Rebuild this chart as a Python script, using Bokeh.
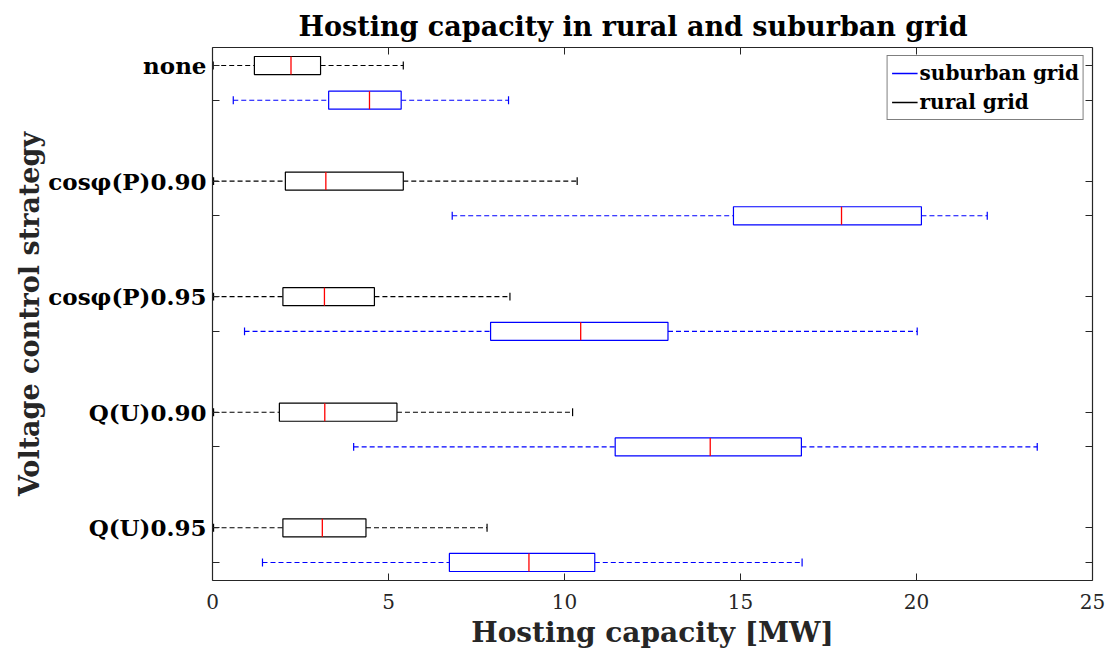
from bokeh.plotting import figure
from bokeh.models import (FixedTicker, LinearAxis, Range1d, Legend, LegendItem, ColumnDataSource)
from bokeh.embed import file_html
from bokeh.resources import INLINE

# ---------------- data ----------------
categories = ["none", "cos\u03c6(P)0.90", "cos\u03c6(P)0.95", "Q(U)0.90", "Q(U)0.95"]

rural_min = [0.02, 0.03, 0.03, 0.03, 0.03]
rural_q1 = [1.19, 2.07, 2.00, 1.90, 2.00]
rural_med = [2.23, 3.22, 3.18, 3.19, 3.12]
rural_q3 = [3.07, 5.42, 4.60, 5.24, 4.36]
rural_max = [5.42, 10.36, 8.45, 10.23, 7.80]

sub_min = [0.59, 6.81, 0.91, 4.01, 1.42]
sub_q1 = [3.30, 14.80, 7.90, 11.44, 6.73]
sub_med = [4.46, 17.87, 10.46, 14.14, 8.99]
sub_q3 = [5.36, 20.14, 12.94, 16.73, 10.86]
sub_max = [8.41, 22.01, 20.02, 23.43, 16.75]

x_ticks = [0, 5, 10, 15, 20, 25]

# ---------------- layout helpers ----------------
n = len(categories)
rural_y = [10 * (n - i) for i in range(n)]
sub_y = [y - 3 for y in rural_y]
box_h = 1.56
cap_h = 0.34

FONT = "DejaVu Serif"
AX = "#262626"

p = figure(width=1108, height=651, output_backend="svg", toolbar_location=None,
           x_range=Range1d(0, 25), y_range=Range1d(min(sub_y) - 1.56, max(rural_y) + 1.56),
           min_border_left=212, min_border_right=16, min_border_top=47, min_border_bottom=64,
           background_fill_color="white", border_fill_color="white")

p.title.text = "Hosting capacity in rural and suburban grid"
p.title.align = "left"
p.title.text_font = FONT
p.title.text_font_style = "bold"
p.title.text_font_size = "27px"
p.title.text_color = "black"
p.title.standoff = 12
p.title.offset = 86

p.grid.visible = False
p.outline_line_color = None


def draw(ys, mn, q1, md, q3, mx, color):
    src = ColumnDataSource(dict(y=ys, mn=mn, q1=q1, md=md, q3=q3, mx=mx,
                                yb=[y - box_h / 2 for y in ys], yt=[y + box_h / 2 for y in ys],
                                cb=[y - cap_h for y in ys], ct=[y + cap_h for y in ys]))
    p.segment(x0="mn", y0="y", x1="q1", y1="y", source=src, line_color=color,
              line_dash="5 3", line_width=1.1)
    p.segment(x0="q3", y0="y", x1="mx", y1="y", source=src, line_color=color,
              line_dash="5 3", line_width=1.1)
    p.segment(x0="mn", y0="cb", x1="mn", y1="ct", source=src, line_color=color, line_width=1.2)
    p.segment(x0="mx", y0="cb", x1="mx", y1="ct", source=src, line_color=color, line_width=1.2)
    p.hbar(y="y", left="q1", right="q3", height=box_h, source=src, fill_color="white",
           line_color=color, line_width=1.2)
    p.segment(x0="md", y0="yb", x1="md", y1="yt", source=src, line_color="red", line_width=1.3)


draw(rural_y, rural_min, rural_q1, rural_med, rural_q3, rural_max, "black")
draw(sub_y, sub_min, sub_q1, sub_med, sub_q3, sub_max, "blue")

# legend with dummy lines
l_sub = p.line([-10, -9], [0, 0], line_color="#0000ff", line_width=1.6)
l_rur = p.line([-10, -9], [0, 0], line_color="black", line_width=1.6)
legend = Legend(items=[LegendItem(label="suburban grid", renderers=[l_sub]),
                       LegendItem(label="rural grid", renderers=[l_rur])],
                location="top_right")
legend.label_text_font = FONT
legend.label_text_font_style = "bold"
legend.label_text_font_size = "20px"
legend.label_text_color = "black"
legend.glyph_width = 26
legend.glyph_height = 26
legend.label_standoff = 2
legend.label_height = 26
legend.spacing = 3
legend.padding = 4
legend.margin = 8
legend.border_line_color = "black"
legend.border_line_width = 1
legend.background_fill_alpha = 1
p.add_layout(legend)

# axes styling
y_ticks = sorted(rural_y + sub_y)
overrides = {y: "" for y in sub_y}
for y, c in zip(rural_y, categories):
    overrides[y] = c


def style(ax):
    ax.axis_line_color = AX
    ax.major_tick_line_color = AX
    ax.major_tick_in = 7
    ax.major_tick_out = 0
    ax.minor_tick_line_color = None
    ax.axis_line_width = 1.2


xa = p.xaxis[0]
xa.ticker = FixedTicker(ticks=x_ticks)
style(xa)
xa.major_label_text_font = FONT
xa.major_label_text_font_size = "20px"
xa.major_label_text_color = AX
xa.major_label_standoff = 13
xa.axis_label = "Hosting capacity [MW]"
xa.axis_label_text_font = FONT
xa.axis_label_text_font_style = "bold"
xa.axis_label_text_font_size = "28px"
xa.axis_label_text_color = AX
xa.axis_label_standoff = 4

ya = p.yaxis[0]
ya.ticker = FixedTicker(ticks=y_ticks)
ya.major_label_overrides = overrides
style(ya)
ya.major_label_text_font = FONT
ya.major_label_text_font_style = "bold"
ya.major_label_text_font_size = "23px"
ya.major_label_text_color = "black"
ya.major_label_standoff = 6
ya.axis_label = "Voltage control strategy"
ya.axis_label_text_font = FONT
ya.axis_label_text_font_style = "bold"
ya.axis_label_text_font_size = "27px"
ya.axis_label_text_color = AX
ya.axis_label_standoff = 0

top = LinearAxis(ticker=FixedTicker(ticks=x_ticks),
                 major_label_overrides={t: "" for t in x_ticks})
style(top)
p.add_layout(top, "above")
right = LinearAxis(ticker=FixedTicker(ticks=y_ticks),
                   major_label_overrides={t: "" for t in y_ticks})
style(right)
p.add_layout(right, "right")

open("out.html", "w").write(file_html(p, INLINE))
